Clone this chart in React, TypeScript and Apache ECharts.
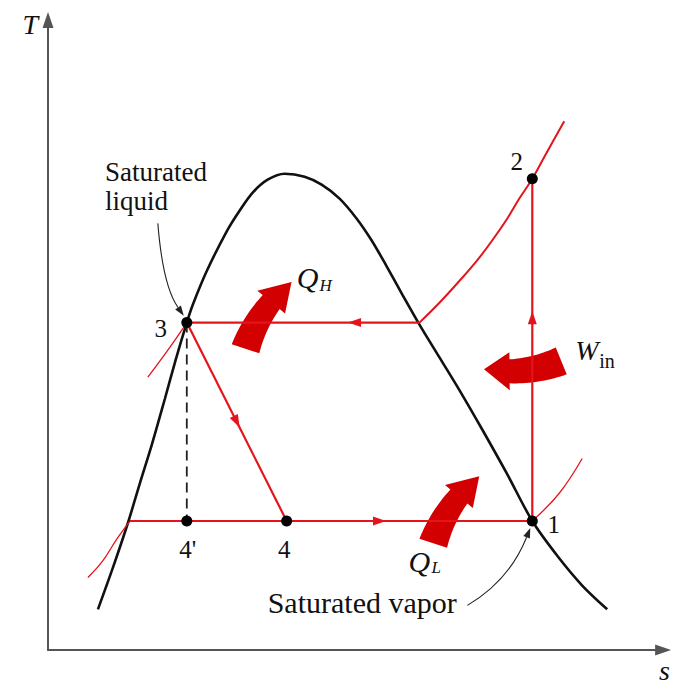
import React, { useEffect, useRef } from "react";
import * as echarts from "echarts";

// Saturation dome (entropy s, temperature T) in arbitrary diagram units
const domeS = [52, 67, 82, 94, 106, 119, 130, 141, 147, 161, 181, 194, 207, 222, 239, 259, 276, 294, 311, 326, 341, 357, 374, 394, 414, 437, 462, 487, 512, 537, 562];
const domeT = [41, 83, 128, 168, 207, 253, 293, 330, 348, 382, 422, 443, 461, 474, 480, 477, 469, 455, 435, 413, 387, 358, 328, 295, 262, 222, 177, 130, 95, 65, 41];

// Cycle states
const stateNames = ["1", "2", "3", "4", "4'"];
const stateS = [487, 487, 141, 241, 141];
const stateT = [130, 475, 330, 130, 130];

// Superheated-vapour constant-pressure curve (condenser pressure)
const supS = [374, 394, 414, 432, 447, 462, 474, 487, 499, 509, 519];
const supT = [330, 350, 372, 393, 413, 435, 455, 475, 497, 515, 533];

// Evaporator line starts on the saturated-liquid line
const evapStartS = 84;

// Thin constant-pressure curve pieces
const liqS = [102, 124, 141];
const liqT = [275, 305, 330];
const lowLeftS = [42, 57, 71, 84];
const lowLeftT = [73, 90, 112, 130];
const vapS = [487, 514, 537];
const vapT = [130, 158, 193];

// Flow-direction arrowheads
const flowS = [309, 487, 334, 191];
const flowT = [330, 335, 130, 230];
const flowRot = [90, 0, -90, -153.4];

const RED = "#e3141c";
const DARK_RED = "#d20000";
const INK = "#111";
const FONT = "Liberation Serif";

const zip = (a: number[], b: number[]) => a.map((v, i) => [v, b[i]]);

export default function App() {
  const ref = useRef<HTMLDivElement>(null);
  useEffect(() => {
    if (!ref.current) return;
    const chart = echarts.init(ref.current, null, { renderer: "svg" });
    const s1 = stateS[0], t1 = stateT[0];
    const s2 = stateS[1], t2 = stateT[1];
    const s3 = stateS[2], t3 = stateT[2];
    const s4 = stateS[3], t4 = stateT[3];
    const s4p = stateS[4], t4p = stateT[4];

    const lineSeries = (data: number[][], color: string, width: number, extra: any = {}) => ({
      type: "line",
      data,
      showSymbol: false,
      symbol: "none",
      silent: true,
      lineStyle: { color, width, ...(extra.lineStyle || {}) },
      smooth: extra.smooth || false,
      z: extra.z || 2,
    });

    const labelOffsets: Record<string, number[]> = {
      "1": [21.5, 3],
      "2": [-15.5, -17],
      "3": [-26, 6],
      "4": [-2.5, 28],
      "4'": [1, 28],
    };

    const option: any = {
      animation: false,
      grid: { left: 48, right: 9, top: 20, bottom: 29, containLabel: false },
      xAxis: {
        type: "value",
        min: 2,
        max: 618,
        name: "s",
        nameLocation: "end",
        nameGap: -4,
        nameTextStyle: { fontFamily: FONT, fontStyle: "italic", fontSize: 28, color: INK, align: "left", verticalAlign: "top", padding: [6, 0, 0, 0] },
        axisLine: { show: true, symbol: ["none", "triangle"], symbolSize: [11, 16], lineStyle: { color: "#555", width: 2 } },
        axisTick: { show: false },
        axisLabel: { show: false },
        splitLine: { show: false },
      },
      yAxis: {
        type: "value",
        min: 0,
        max: 635,
        name: "T",
        nameLocation: "end",
        nameGap: -4,
        nameTextStyle: { fontFamily: FONT, fontStyle: "italic", fontSize: 28, color: INK, align: "right", verticalAlign: "middle", padding: [0, 10, 0, 0] },
        axisLine: { show: true, symbol: ["none", "triangle"], symbolSize: [11, 16], lineStyle: { color: "#555", width: 2 } },
        axisTick: { show: false },
        axisLabel: { show: false },
        splitLine: { show: false },
      },
      series: [
        lineSeries(zip(domeS, domeT), "#111", 2.6, { smooth: 0.3, z: 2 }),
        lineSeries([[s3, t3], [supS[0], supT[0]]], RED, 2.2, { z: 3 }),
        lineSeries(zip(supS, supT), RED, 2, { smooth: 0.4, z: 3 }),
        lineSeries([[s1, t1], [s2, t2]], RED, 2.2, { z: 3 }),
        lineSeries([[evapStartS, t1], [s1, t1]], RED, 2.2, { z: 3 }),
        lineSeries([[s3, t3], [s4, t4]], RED, 2.2, { z: 3 }),
        lineSeries(zip(liqS, liqT), RED, 1.3, { smooth: 0.4, z: 3 }),
        lineSeries(zip(lowLeftS, lowLeftT), RED, 1.3, { smooth: 0.4, z: 3 }),
        lineSeries(zip(vapS, vapT), RED, 1.3, { smooth: 0.4, z: 3 }),
        lineSeries([[s3, t3], [s4p, t4p]], "#222", 1.8, { lineStyle: { type: [10, 6] }, z: 2 }),
        {
          type: "scatter",
          silent: true,
          z: 4,
          symbol: "triangle",
          symbolSize: [9, 13],
          itemStyle: { color: RED, opacity: 1 },
          data: flowS.map((s, i) => ({ value: [s, flowT[i]], symbolRotate: flowRot[i] })),
        },
        {
          type: "scatter",
          silent: true,
          z: 5,
          symbol: "circle",
          symbolSize: 11,
          itemStyle: { color: "#000", opacity: 1 },
          data: stateNames.map((n, i) => ({
            value: [stateS[i], stateT[i]],
            name: n,
            label: {
              show: true,
              formatter: n,
              position: "inside",
              offset: labelOffsets[n],
              fontFamily: FONT,
              fontSize: 25,
              color: INK,
              opacity: 1,
              textBorderWidth: 0,
              textBorderColor: "transparent",
              textShadowBlur: 0,
            },
          })),
        },
      ],
    };
    chart.setOption(option);

    const px = (s: number, t: number) => chart.convertToPixel({ gridIndex: 0 }, [s, t]) as number[];

    const bandArrow = (c: number[], R: number, a0: number, a1: number, a2: number, w0: number, w1: number, hw: number) => {
      const rad = (d: number) => (d * Math.PI) / 180;
      const pt = (r: number, a: number) => [c[0] + r * Math.cos(rad(a)), c[1] + r * Math.sin(rad(a))];
      const pts: number[][] = [];
      const n = 18;
      for (let i = 0; i <= n; i++) {
        const a = a0 + ((a1 - a0) * i) / n;
        const w = w0 + ((w1 - w0) * i) / n;
        pts.push(pt(R + w / 2, a));
      }
      pts.push(pt(R + hw, a1));
      pts.push(pt(R, a2));
      pts.push(pt(R - hw, a1));
      for (let i = n; i >= 0; i--) {
        const a = a0 + ((a1 - a0) * i) / n;
        const w = w0 + ((w1 - w0) * i) / n;
        pts.push(pt(R - w / 2, a));
      }
      return pts;
    };

    const leader = (p0: number[], c: number[], p1: number[]) => {
      const dx = p1[0] - c[0], dy = p1[1] - c[1];
      const L = Math.hypot(dx, dy);
      const ux = dx / L, uy = dy / L;
      const len = 10, hw = 3.5;
      const bx = p1[0] - ux * len, by = p1[1] - uy * len;
      return [
        {
          type: "bezierCurve",
          silent: true,
          shape: { x1: p0[0], y1: p0[1], cpx1: c[0], cpy1: c[1], x2: bx, y2: by },
          style: { stroke: "#222", lineWidth: 1.1, fill: null },
        },
        {
          type: "polygon",
          silent: true,
          shape: { points: [p1, [bx - uy * hw, by + ux * hw], [bx + uy * hw, by - ux * hw]] },
          style: { fill: "#222" },
        },
      ];
    };

    const qh = px(336, 259);
    const ql = px(524, 63);
    const win = px(463, 422);

    const txt = (p: number[], text: string, fontSize: number, italic: boolean, align = "left", lineHeight?: number) => ({
      type: "text",
      silent: true,
      x: p[0],
      y: p[1],
      style: {
        text,
        fontFamily: FONT,
        fontSize,
        fontStyle: italic ? "italic" : "normal",
        fill: INK,
        align,
        verticalAlign: "middle",
        lineHeight: lineHeight || fontSize,
      },
    });

    const graphic: any[] = [
      { type: "polygon", silent: true, shape: { points: bandArrow(qh, 143, 198, 219.5, 231, 29, 22, 18) }, style: { fill: DARK_RED } },
      { type: "polygon", silent: true, shape: { points: bandArrow(ql, 143, 198, 219.5, 231, 29, 22, 18) }, style: { fill: DARK_RED } },
      { type: "polygon", silent: true, shape: { points: bandArrow(win, 140, 67.8, 89.5, 100, 29, 24, 19) }, style: { fill: DARK_RED } },
      ...leader(px(422, 45), px(464, 70), px(485, 123)),
      ...leader(px(112, 430), px(117, 367), px(138, 337)),
      txt(px(59, 467), "Saturated\nliquid", 27, false, "left", 29),
      txt(px(222, 47.5), "Saturated vapor", 30, false),
      txt(px(251, 375), "Q", 30, true),
      txt(px(274, 367), "H", 17, true),
      txt(px(530, 301.5), "W", 28, true),
      txt(px(554, 291), "in", 20, false),
      txt(px(363, 89), "Q", 30, true),
      txt(px(386, 83), "L", 17, true),
    ];
    chart.setOption({ graphic });

    return () => chart.dispose();
  }, []);

  return <div ref={ref} style={{ position: "fixed", left: 0, top: 0, width: 673, height: 684, background: "#fff" }} />;
}
